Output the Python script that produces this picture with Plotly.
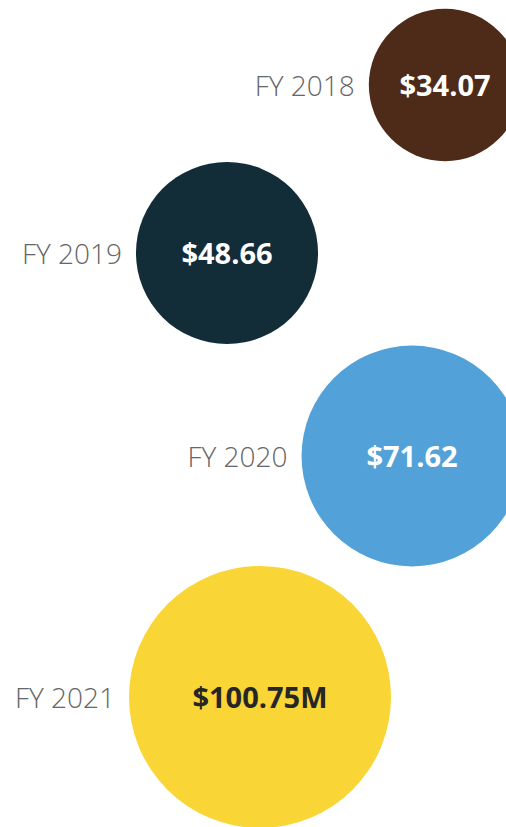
import math
import plotly.graph_objects as go

# ---- data ----
years = ["FY 2018", "FY 2019", "FY 2020", "FY 2021"]
values = [34.07, 48.66, 71.62, 100.75]          # $ millions
value_labels = ["$34.07", "$48.66", "$71.62", "$100.75M"]

# ---- layout (pixel-like canvas coordinates) ----
center_x = [445, 227, 412, 260]
center_y = [85, 253, 456, 697]
colors = ["#4E2B18", "#122D38", "#52A2D9", "#F9D535"]
value_text_colors = ["#FFFFFF", "#FFFFFF", "#FFFFFF", "#262626"]
max_diameter = 262
label_gap = 14
text_dy = 4
sizeref = 2.0 * max(values) / (max_diameter ** 2)

# radius plotly will render for each bubble (area mode), used to place the year label
radii = [math.sqrt(v / 2.0 / sizeref) for v in values]
label_x = [cx - r - label_gap for cx, r in zip(center_x, radii)]
text_y = [y + text_dy for y in center_y]

W, H = 506, 827
FONT = "Open Sans, Noto Sans, sans-serif"

fig = go.Figure()

fig.add_trace(go.Scatter(
    x=center_x, y=center_y,
    mode="markers",
    marker=dict(size=values, sizemode="area", sizeref=sizeref,
                color=colors, opacity=1, line=dict(width=0)),
    hoverinfo="skip",
    cliponaxis=False,
))

# year labels left of bubbles
fig.add_trace(go.Scatter(
    x=label_x, y=text_y,
    mode="text",
    text=years,
    textposition="middle left",
    textfont=dict(family=FONT, size=28, color="#666666", weight=300),
    hoverinfo="skip",
    cliponaxis=False,
))

# values inside bubbles
fig.add_trace(go.Scatter(
    x=center_x, y=text_y,
    mode="text",
    text=value_labels,
    textposition="middle center",
    textfont=dict(family=FONT, size=29, color=value_text_colors, weight=700),
    hoverinfo="skip",
    cliponaxis=False,
))

fig.update_layout(
    width=W, height=H,
    margin=dict(l=0, r=0, t=0, b=0),
    paper_bgcolor="white", plot_bgcolor="white",
    showlegend=False,
    xaxis=dict(range=[0, W], visible=False, fixedrange=True),
    yaxis=dict(range=[H, 0], visible=False, fixedrange=True),
)

fig.write_html(
    "out.html",
    config={"displayModeBar": False},
    post_script="document.body.style.margin='0';document.body.style.overflow='hidden';",
)
